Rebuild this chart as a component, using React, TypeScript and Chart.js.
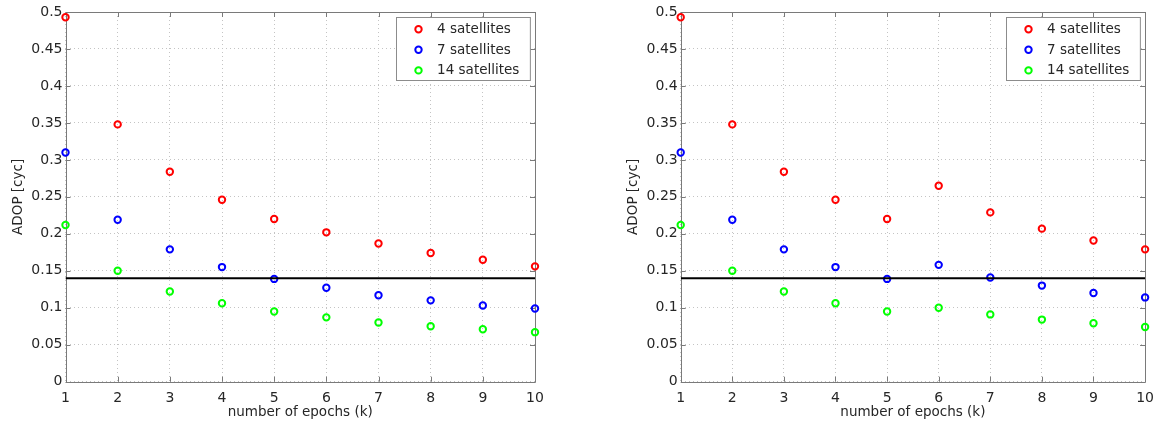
import React, { useEffect, useRef } from "react";
import { Chart, registerables } from "chart.js";

Chart.register(...registerables);

// ---------- data ----------
const epochs = [1, 2, 3, 4, 5, 6, 7, 8, 9, 10];
const seriesLabels = ["4 satellites", "7 satellites", "14 satellites"];
const seriesColors = ["#ff0000", "#0000ff", "#00ff00"];

const leftSat4 = [0.493, 0.348, 0.284, 0.246, 0.22, 0.202, 0.187, 0.174, 0.165, 0.156];
const leftSat7 = [0.31, 0.219, 0.179, 0.155, 0.139, 0.127, 0.117, 0.11, 0.103, 0.099];
const leftSat14 = [0.212, 0.15, 0.122, 0.106, 0.095, 0.087, 0.08, 0.075, 0.071, 0.067];

const rightSat4 = [0.493, 0.348, 0.284, 0.246, 0.22, 0.265, 0.229, 0.207, 0.191, 0.179];
const rightSat7 = [0.31, 0.219, 0.179, 0.155, 0.139, 0.158, 0.141, 0.13, 0.12, 0.114];
const rightSat14 = [0.212, 0.15, 0.122, 0.106, 0.095, 0.1, 0.091, 0.084, 0.079, 0.074];

const thresholdValue = 0.14;

const xTickLabels = ["1", "2", "3", "4", "5", "6", "7", "8", "9", "10"];
const yTickLabels = ["0", "0.05", "0.1", "0.15", "0.2", "0.25", "0.3", "0.35", "0.4", "0.45", "0.5"];
const xTitle = "number of epochs (k)";
const yTitle = "ADOP [cyc]";

// ---------- style ----------
const FONT = "'DejaVu Sans', sans-serif";
const TEXT = "#262626";
const AXIS = "#7a7a7a";
const GRID = "#c4c4c4";
const PAGE_H = 427;
const AREA_TOP = 12;
const AREA_BOTTOM = 381.7;

const boxPlugin = {
  id: "matlabBox",
  beforeDatasetsDraw(chart: any) {
    const { ctx, chartArea, scales } = chart;
    const { left, right, top, bottom } = chartArea;
    ctx.save();
    ctx.strokeStyle = AXIS;
    ctx.lineWidth = 1;
    ctx.beginPath();
    ctx.rect(Math.round(left) + 0.5, Math.round(top) + 0.5, Math.round(right) - Math.round(left), Math.round(bottom) - Math.round(top));
    ctx.stroke();
    const tl = 5;
    ctx.beginPath();
    scales.x.ticks.forEach((t: any) => {
      const px = Math.round(scales.x.getPixelForValue(t.value)) + 0.5;
      ctx.moveTo(px, bottom);
      ctx.lineTo(px, bottom - tl);
      ctx.moveTo(px, top);
      ctx.lineTo(px, top + tl);
    });
    scales.y.ticks.forEach((t: any) => {
      const py = Math.round(scales.y.getPixelForValue(t.value)) + 0.5;
      ctx.moveTo(left, py);
      ctx.lineTo(left + tl, py);
      ctx.moveTo(right, py);
      ctx.lineTo(right - tl, py);
    });
    ctx.stroke();
    ctx.restore();
  },
  afterDatasetsDraw(chart: any) {
    const { ctx, chartArea } = chart;
    ctx.save();
    ctx.font = `13.5px ${FONT}`;
    const widths = seriesLabels.map((l) => ctx.measureText(l).width);
    const maxW = Math.max(...widths);
    const textOff = 40.6;
    const boxW = textOff + maxW + 11;
    const boxH = 63;
    const x0 = Math.round(chartArea.right - 5 - boxW) + 0.5;
    const y0 = Math.round(chartArea.top + 5) + 0.5;
    ctx.fillStyle = "#ffffff";
    ctx.fillRect(x0, y0, boxW, boxH);
    ctx.strokeStyle = "#8c8c8c";
    ctx.lineWidth = 1;
    ctx.strokeRect(x0, y0, boxW, boxH);
    seriesLabels.forEach((label, i) => {
      const cy = y0 + 11.7 + i * 20.6;
      ctx.beginPath();
      ctx.strokeStyle = seriesColors[i];
      ctx.lineWidth = 2;
      ctx.arc(x0 + 22, cy, 3.2, 0, Math.PI * 2);
      ctx.stroke();
      ctx.fillStyle = TEXT;
      ctx.textAlign = "left";
      ctx.textBaseline = "middle";
      ctx.fillText(label, x0 + textOff, cy + 0.5);
    });
    ctx.restore();
  },
};

type PanelProps = {
  canvasLeft: number;
  canvasWidth: number;
  areaLeft: number;
  areaRight: number;
  series: number[][];
};

function Panel({ canvasLeft, canvasWidth, areaLeft, areaRight, series }: PanelProps) {
  const ref = useRef<HTMLCanvasElement>(null);
  useEffect(() => {
    const yWidth = areaLeft - canvasLeft;
    const rightPad = canvasLeft + canvasWidth - areaRight;
    const scatterSets = series.map((vals, i) => ({
      type: "scatter" as const,
      label: seriesLabels[i],
      data: epochs.map((e, j) => ({ x: e, y: vals[j] })),
      borderColor: seriesColors[i],
      backgroundColor: "rgba(0,0,0,0)",
      pointRadius: 3.2,
      pointHoverRadius: 3.2,
      borderWidth: 2,
      pointStyle: "circle",
      clip: false as any,
      order: 1,
    }));
    const lineSet = {
      type: "line" as const,
      label: "threshold",
      data: [
        { x: epochs[0], y: thresholdValue },
        { x: epochs[epochs.length - 1], y: thresholdValue },
      ],
      borderColor: "#000000",
      borderWidth: 2,
      pointRadius: 0,
      fill: false,
      order: 0,
    };
    const chart = new Chart(ref.current!, {
      type: "scatter",
      data: { datasets: [lineSet as any, ...scatterSets] },
      plugins: [boxPlugin],
      options: {
        animation: false,
        responsive: false,
        devicePixelRatio: 1,
        layout: { padding: { left: 0, right: rightPad, top: AREA_TOP, bottom: 0 } },
        plugins: { legend: { display: false }, tooltip: { enabled: false }, title: { display: false } },
        scales: {
          x: {
            type: "linear",
            min: 1,
            max: 10,
            ticks: {
              stepSize: 1,
              padding: 8,
              color: TEXT,
              font: { family: FONT, size: 14 },
              maxRotation: 0,
              callback: (_v: any, i: number) => xTickLabels[i],
            },
            grid: { color: GRID, drawTicks: false, lineWidth: 1 },
            border: { display: false, dash: [1, 3] },
            title: {
              display: true,
              text: xTitle,
              color: TEXT,
              font: { family: FONT, size: 13.5 },
              padding: { top: 0, bottom: 6 },
            },
            afterFit: (s: any) => {
              s.height = PAGE_H - AREA_BOTTOM;
            },
          },
          y: {
            type: "linear",
            min: 0,
            max: 0.5,
            ticks: {
              stepSize: 0.05,
              padding: 3,
              color: TEXT,
              font: { family: FONT, size: 14 },
              callback: (_v: any, i: number) => yTickLabels[i],
            },
            grid: { color: GRID, drawTicks: false, lineWidth: 1 },
            border: { display: false, dash: [1, 3] },
            title: {
              display: true,
              text: yTitle,
              color: TEXT,
              font: { family: FONT, size: 13.5 },
              padding: { top: 10, bottom: 0 },
            },
            afterFit: (s: any) => {
              s.width = yWidth;
            },
          },
        },
      } as any,
    });
    return () => chart.destroy();
  }, []);
  return (
    <canvas
      ref={ref}
      width={canvasWidth}
      height={PAGE_H}
      style={{ position: "absolute", left: canvasLeft, top: 0, width: canvasWidth, height: PAGE_H }}
    />
  );
}

export default function App() {
  return (
    <div style={{ position: "absolute", left: 0, top: 0, width: 1162, height: PAGE_H, background: "#ffffff" }}>
      <Panel canvasLeft={0} canvasWidth={581} areaLeft={65.5} areaRight={535} series={[leftSat4, leftSat7, leftSat14]} />
      <Panel canvasLeft={615} canvasWidth={547} areaLeft={680.7} areaRight={1150.7} series={[rightSat4, rightSat7, rightSat14]} />
    </div>
  );
}
